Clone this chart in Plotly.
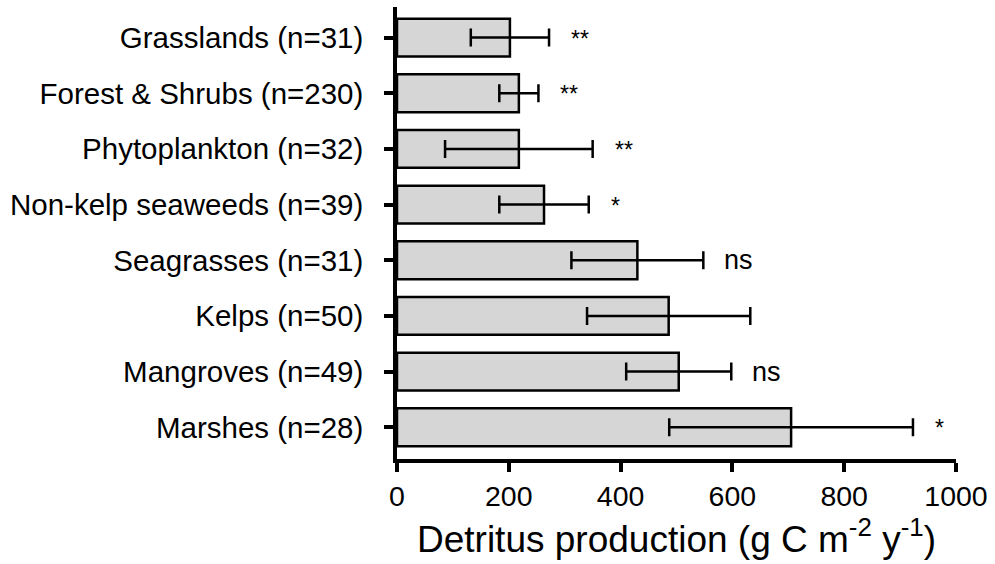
import plotly.graph_objects as go

categories = ["Grasslands (n=31)", "Forest & Shrubs (n=230)", "Phytoplankton (n=32)",
              "Non-kelp seaweeds (n=39)", "Seagrasses (n=31)", "Kelps (n=50)",
              "Mangroves (n=49)", "Marshes (n=28)"]
means = [202, 218, 218, 263, 430, 486, 504, 705]
errors = [70, 35, 132, 80, 118, 146, 94, 218]
signif = ["**", "**", "**", "*", "ns", "", "ns", "*"]
x_ticks = [0, 200, 400, 600, 800, 1000]

pos = list(range(len(categories)))
FONT = "Liberation Sans, Arial, sans-serif"

fig = go.Figure()
fig.add_trace(go.Bar(
    y=pos, x=means, orientation="h", width=0.68,
    marker=dict(color="#d6d6d6", line=dict(color="black", width=2.5)),
    error_x=dict(type="data", array=errors, visible=True, color="black",
                 thickness=2.5, width=9),
    showlegend=False, hoverinfo="skip",
))

for p, m, e, s in zip(pos, means, errors, signif):
    if s:
        is_ns = s == "ns"
        fig.add_annotation(x=m + e, y=p, text=s, showarrow=False, xanchor="left",
                           xshift=19 if is_ns else 20, yshift=0 if is_ns else -1,
                           font=dict(family=FONT, size=27 if is_ns else 23, color="black"))

fig.update_layout(
    width=995, height=564, plot_bgcolor="white", paper_bgcolor="white",
    margin=dict(l=397, r=39, t=7, b=105),
    font=dict(family=FONT, color="black"),
)
fig.update_xaxes(
    range=[0, 1000], tickvals=x_ticks, ticktext=[str(v) for v in x_ticks],
    showline=True, linecolor="black", linewidth=3.5, ticks="outside", ticklen=9,
    tickwidth=3.5, tickcolor="black", showgrid=False, zeroline=False,
    tickfont=dict(size=28.5, family=FONT, color="black"),
    title=dict(text="Detritus production (g C m<sup>-2</sup> y<sup>-1</sup>)",
               font=dict(size=37, family=FONT, color="black"), standoff=16),
)
fig.update_yaxes(
    range=[7.57, -0.55], tickvals=pos, ticktext=categories,
    showline=True, linecolor="black", linewidth=3.5, ticks="outside", ticklen=9,
    tickwidth=3.5, tickcolor="black", showgrid=False, zeroline=False,
    tickfont=dict(size=29.5, family=FONT, color="black"), ticklabelstandoff=15,
)

fig.write_html("out.html")
